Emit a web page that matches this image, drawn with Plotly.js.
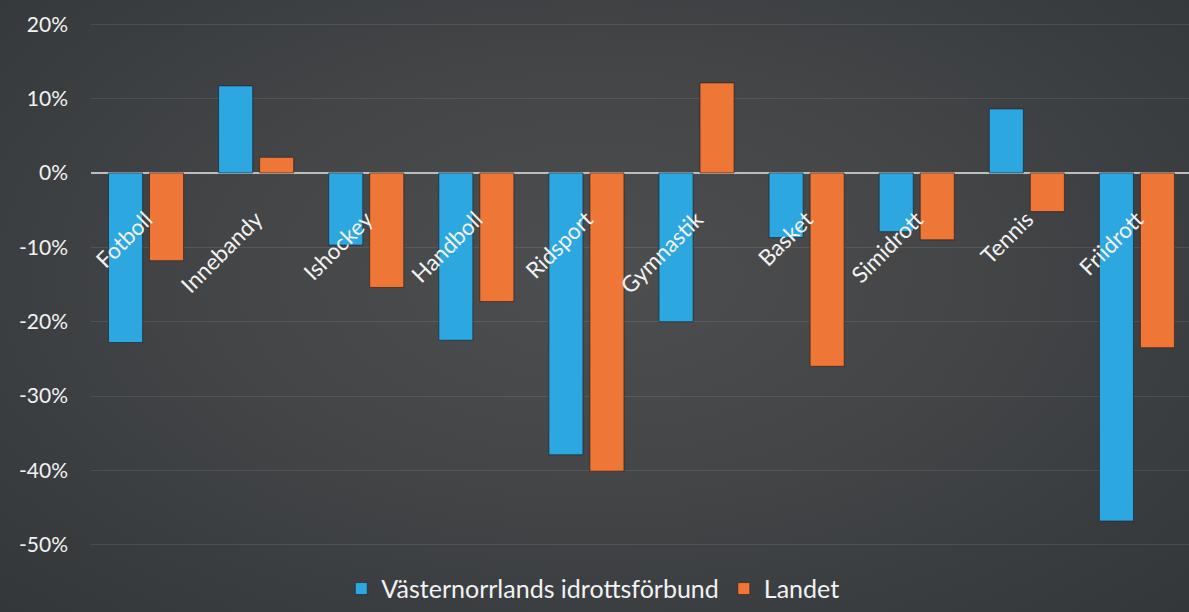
<!DOCTYPE html>
<html><head><meta charset="utf-8">
<script src="https://cdn.plot.ly/plotly-3.0.1.min.js"></script>
<style>
html,body{margin:0;padding:0;}
body{width:1189px;height:612px;background:radial-gradient(ellipse at 50% 45%, #4d4e50 0%, #434547 45%, #33373a 100%);}
#chart{width:1189px;height:612px;}
</style></head>
<body><div id="chart"></div>
<script>
const categories = ["Fotboll","Innebandy","Ishockey","Handboll","Ridsport","Gymnastik","Basket","Simidrott","Tennis","Friidrott"];
const vasternorrland = [-22.8, 11.7, -9.7, -22.5, -37.9, -20.0, -8.7, -7.9, 8.6, -46.8];
const landet = [-11.8, 2.1, -15.4, -17.3, -40.1, 12.1, -26.0, -9.0, -5.2, -23.5];
const seriesNames = ["Västernorrlands idrottsförbund", "Landet"];
const yTicks = [20, 10, 0, -10, -20, -30, -40, -50];
const yTickText = yTicks.map(v => v + "%");

const font = "Lato, 'Open Sans', sans-serif";
const yMin = -55, yMax = 21.5;

const traces = [
  {type:"bar", name:seriesNames[0], x:categories, y:vasternorrland,
   marker:{color:"#2ca7e0", line:{color:"rgba(20,30,40,0.6)", width:1}}},
  {type:"bar", name:seriesNames[1], x:categories, y:landet,
   marker:{color:"#ee7636", line:{color:"rgba(40,25,20,0.6)", width:1}}}
];

const layout = {
  width:1189, height:612,
  paper_bgcolor:"rgba(0,0,0,0)", plot_bgcolor:"rgba(0,0,0,0)",
  margin:{l:91, r:0, t:13, b:28},
  barmode:"group", bargap:0.255, bargroupgap:0.17,
  showlegend:true,
  legend:{orientation:"h", x:0.457, xanchor:"center", y:-0.012, yanchor:"middle",
          font:{family:font, size:25, color:"#f2f2f2"}, bgcolor:"rgba(0,0,0,0)", itemwidth:30},
  xaxis:{type:"category", range:[-0.5, 9.473], anchor:"free", position:(0 - yMin)/(yMax - yMin),
         showline:false, showgrid:false, zeroline:false, ticks:"",
         tickangle:-45, ticklabelstandoff:28,
         tickfont:{family:font, size:22.5, color:"#f2f2f2"}},
  yaxis:{range:[yMin, yMax], tickvals:yTicks, ticktext:yTickText,
         showgrid:true, gridcolor:"rgba(255,255,255,0.09)", gridwidth:1,
         zeroline:true, zerolinecolor:"#bdbdbd", zerolinewidth:1.5,
         showline:false, ticks:"", ticklabelstandoff:22,
         tickfont:{family:font, size:21, color:"#f2f2f2"}}
};

Plotly.newPlot("chart", traces, layout, {displayModeBar:false, staticPlot:true});
</script>
</body></html>
